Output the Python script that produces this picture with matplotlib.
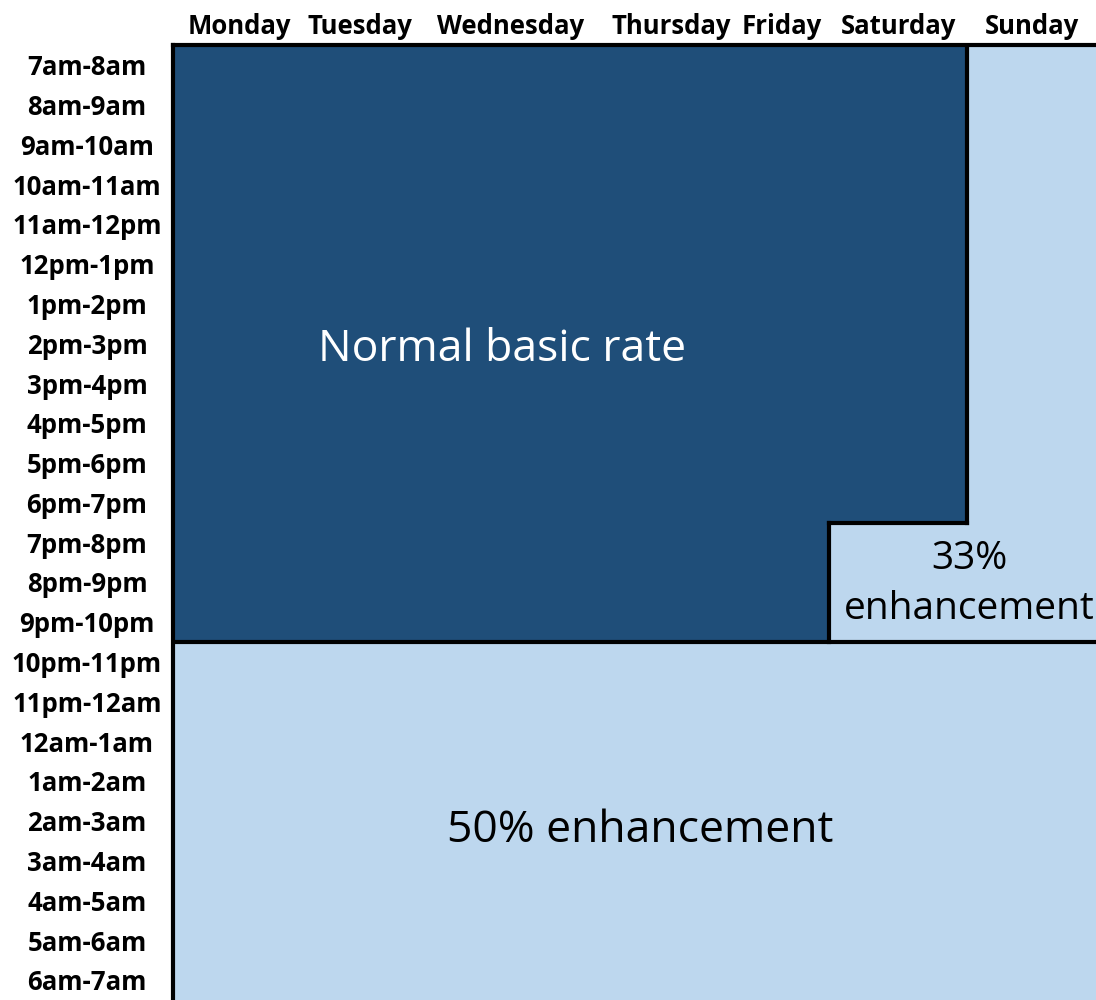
import numpy as np
import matplotlib
matplotlib.use("Agg")
import matplotlib.pyplot as plt
from matplotlib.colors import ListedColormap
from matplotlib.transforms import blended_transform_factory

plt.rcParams['font.family'] = ['Open Sans', 'DejaVu Sans']

days = ["Monday", "Tuesday", "Wednesday", "Thursday", "Friday", "Saturday", "Sunday"]
hours = ["7am-8am", "8am-9am", "9am-10am", "10am-11am", "11am-12pm", "12pm-1pm",
         "1pm-2pm", "2pm-3pm", "3pm-4pm", "4pm-5pm", "5pm-6pm", "6pm-7pm",
         "7pm-8pm", "8pm-9pm", "9pm-10pm", "10pm-11pm", "11pm-12am", "12am-1am",
         "1am-2am", "2am-3am", "3am-4am", "4am-5am", "5am-6am", "6am-7am"]
# column widths as drawn in the original sheet
col_widths = [132, 110, 192, 128, 94, 138, 129]

# 0 = normal basic rate, 1 = 33% enhancement, 2 = 50% enhancement
day_rates = [0, 0, 0, 0, 0, 0, 1]      # 7am - 7pm
evening_rates = [0, 0, 0, 0, 0, 1, 1]  # 7pm - 10pm
night_rates = [2, 2, 2, 2, 2, 2, 2]    # 10pm - 7am
rates = np.array([day_rates] * 12 + [evening_rates] * 3 + [night_rates] * 9)

dark = "#1F4E79"
light = "#BDD7EE"

fig = plt.figure(figsize=(10.96, 10.0), dpi=100)
ax = fig.add_axes([173 / 1096, 0, 923 / 1096, 955 / 1000])

x_edges = np.concatenate([[0], np.cumsum(col_widths)])
y_edges = np.arange(len(hours) + 1)
ax.pcolormesh(x_edges, y_edges, rates, cmap=ListedColormap([dark, light, light]),
              vmin=-0.5, vmax=2.5)
ax.set_xlim(0, x_edges[-1])
ax.set_ylim(len(hours), 0)
ax.set_xticks([])
ax.set_yticks([])
for s in ["right", "bottom"]:
    ax.spines[s].set_visible(False)
for s in ["top", "left"]:
    ax.spines[s].set_linewidth(3)

# region outlines
lw = 3
ax.plot([x_edges[6], x_edges[6]], [0, 12], color="black", lw=lw, solid_capstyle="projecting")
ax.plot([x_edges[5], x_edges[6]], [12, 12], color="black", lw=lw, solid_capstyle="projecting")
ax.plot([x_edges[5], x_edges[5]], [12, 15], color="black", lw=lw, solid_capstyle="projecting")
ax.plot([0, x_edges[-1]], [15, 15], color="black", lw=lw, solid_capstyle="projecting")

# labels
top_tr = blended_transform_factory(ax.transData, fig.transFigure)
for i, d in enumerate(days):
    ax.text((x_edges[i] + x_edges[i + 1]) / 2, 1 - 26 / 1000, d, transform=top_tr,
            ha="center", va="center", fontsize=18.5, fontweight="bold", clip_on=False)

left_tr = blended_transform_factory(fig.transFigure, ax.transData)
for j, h in enumerate(hours):
    ax.text(87 / 1096, j + 0.57, h, transform=left_tr, ha="center", va="center",
            fontsize=18.5, fontweight="bold", clip_on=False)

ax.text(329, 7.65, "Normal basic rate", ha="center", va="center", color="white", fontsize=32)
ax.text(467, 19.75, "50% enhancement", ha="center", va="center", color="black", fontsize=32)
ax.text(796, 13.55, "33%\nenhancement", ha="center", va="center", color="black",
        fontsize=28, linespacing=1.42, clip_on=False)

fig.savefig("out.png", dpi=100)
